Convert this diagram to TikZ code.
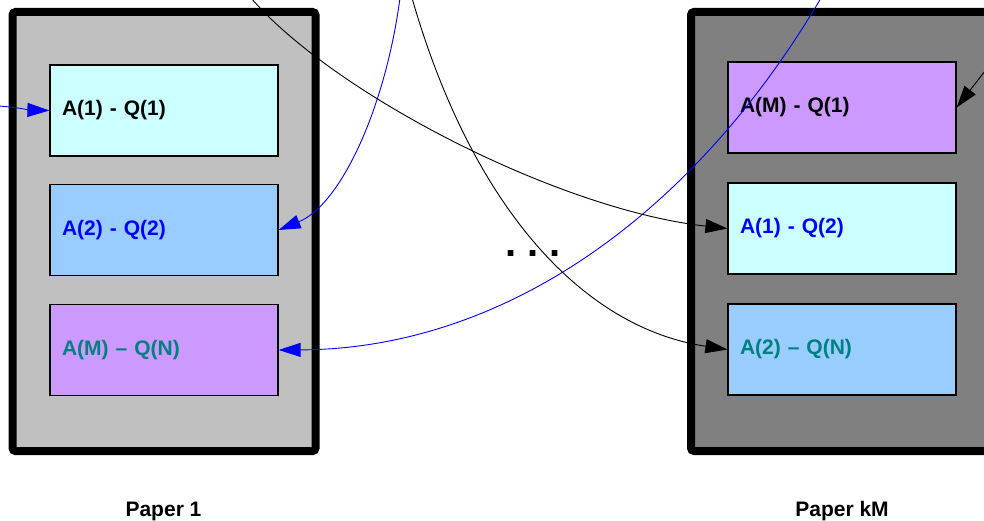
\documentclass[tikz,border=0pt]{standalone}
\usepackage{fontspec}
\setmainfont{Liberation Sans}
\usetikzlibrary{arrows.meta}
\definecolor{cellcyan}{HTML}{CCFFFF}
\definecolor{cellblue}{HTML}{99CCFF}
\definecolor{cellpurple}{HTML}{CC99FF}
\definecolor{paperlight}{HTML}{C0C0C0}
\definecolor{paperdark}{HTML}{808080}
\definecolor{txtblue}{HTML}{0000FF}
\definecolor{txtteal}{HTML}{008080}
\tikzset{
  paperbox/.style={draw=black, line width=8pt, rounded corners=3pt},
  cellbox/.style={draw=black, line width=1.2pt, minimum width=228pt, minimum height=91pt,
    text width=204pt, align=left, inner sep=0pt, font=\fontsize{21}{25}\selectfont\bfseries},
  papername/.style={anchor=base, font=\fontsize{21}{25}\selectfont\bfseries},
  link/.style={line width=0.9pt, -{Triangle[length=22pt,width=14pt]}},
}
\begin{document}
\begin{tikzpicture}[x=1pt,y=-1pt]
\useasboundingbox (0,0) rectangle (984,521);
\clip (0,0) rectangle (984,521);
% paper boxes
\draw[paperbox, fill=paperlight] (12.5,12) rectangle (315.5,451);
\draw[paperbox, fill=paperdark] (691,12) rectangle (994,451);
% cells of Paper 1
\node[cellbox, fill=cellcyan, text=black] (l1) at (164,110.5) {A(1) - Q(1)};
\node[cellbox, fill=cellblue, text=txtblue] (l2) at (164,230) {A(2) - Q(2)};
\node[cellbox, fill=cellpurple, text=txtteal] (l3) at (164,350) {A(M) – Q(N)};
% cells of Paper kM
\node[cellbox, fill=cellpurple, text=black] (r1) at (842,107.5) {A(M) - Q(1)};
\node[cellbox, fill=cellcyan, text=txtblue] (r2) at (842,228.5) {A(1) - Q(2)};
\node[cellbox, fill=cellblue, text=txtteal] (r3) at (842,349.5) {A(2) – Q(N)};
% labels
\node[papername] (lab1) at (163.5,516) {Paper 1};
\node[papername] (lab2) at (842,516) {Paper kM};
\node[anchor=base, inner sep=0pt, font=\fontsize{40}{44}\selectfont\bfseries] (dots) at (533,256) {.\kern 10.9pt.\kern 10.9pt.};
% free ends
\coordinate (s1) at (-2,106);
\coordinate (s2) at (400,-2);
\coordinate (s3) at (821,-2);
\coordinate (s4) at (251,-2);
\coordinate (s5) at (412,-2);
\coordinate (s6) at (992,62);
% connectors
\draw[link, txtblue] (s1) .. controls (15,107) and (30,110) .. (l1.west);
\draw[link, txtblue] (s2) .. controls (385,110) and (340,205) .. (l2.east);
\draw[link, txtblue] (s3) .. controls (690,220) and (500,349) .. (l3.east);
\draw[link, black] (s4) .. controls (335,95) and (560,210) .. (r2.west);
\draw[link, black] (s5) .. controls (470,200) and (578,327) .. (r3.west);
\draw[link, black] (s6) -- (r1.east);
\end{tikzpicture}
\end{document}
